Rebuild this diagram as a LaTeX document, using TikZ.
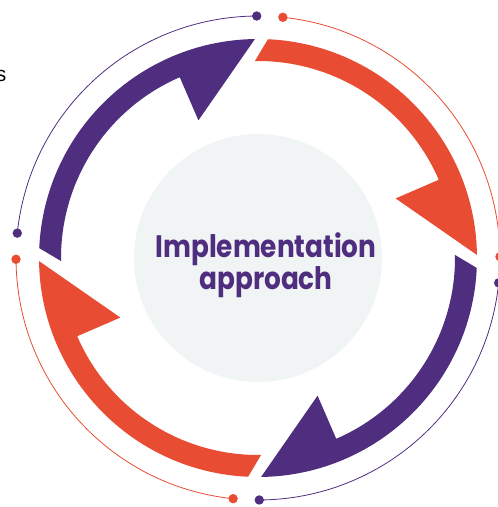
\documentclass[tikz,border=0pt]{standalone}
\usepackage{fontspec}
\newfontfamily\labelfont{Poppins}
\newfontfamily\edgefont{Liberation Sans}
\definecolor{ringpurple}{HTML}{4F2D7F}
\definecolor{ringorange}{HTML}{E84C33}
\definecolor{hubgrey}{HTML}{F1F4F5}
\tikzset{
  track/.style={line width=0.8pt},
  hub label/.style={text=ringpurple, align=center, inner sep=0pt,
    xscale=0.85, transform shape,
    font=\labelfont\bfseries\fontsize{31}{30}\selectfont},
}
\begin{document}
\begin{tikzpicture}[x=1pt,y=1pt]
        \useasboundingbox (0,0) rectangle (498,507);

        % Cut-off text at the left edge
        \node[font=\edgefont\fontsize{21}{21}\selectfont, anchor=base east, inner sep=0pt] (cut) at (6.5,425) {s};

        \begin{scope}[shift={(258,249)}]
        % Grey disc in the middle
        \fill[hubgrey] (0,0) circle (124);

        % Arrows and thin tracks, one per quarter
        \foreach \k/\col in {0/ringpurple,1/ringorange,2/ringpurple,3/ringorange} {
            \pgfmathsetmacro{\a}{-90*\k}
            \fill[\col] (177.4+\a:219) arc[start angle=177.4+\a, end angle=90.8+\a, radius=219]
                -- (113.4+\a:150) -- (113.4+\a:197)
                arc[start angle=113.4+\a, end angle=180.9+\a, radius=197] -- cycle;
            \draw[\col, track] (174.1+\a:242) arc[start angle=174.1+\a, end angle=90.3+\a, radius=242];
            \fill[\col] (174.1+\a:242) circle (4.7);
            \fill[\col] (90.3+\a:242) circle (4.7);
        }
        \end{scope}

        % Label in the middle
        \node[hub label] (hub) at (266,242) {Implementation\\approach};
\end{tikzpicture}
\end{document}
